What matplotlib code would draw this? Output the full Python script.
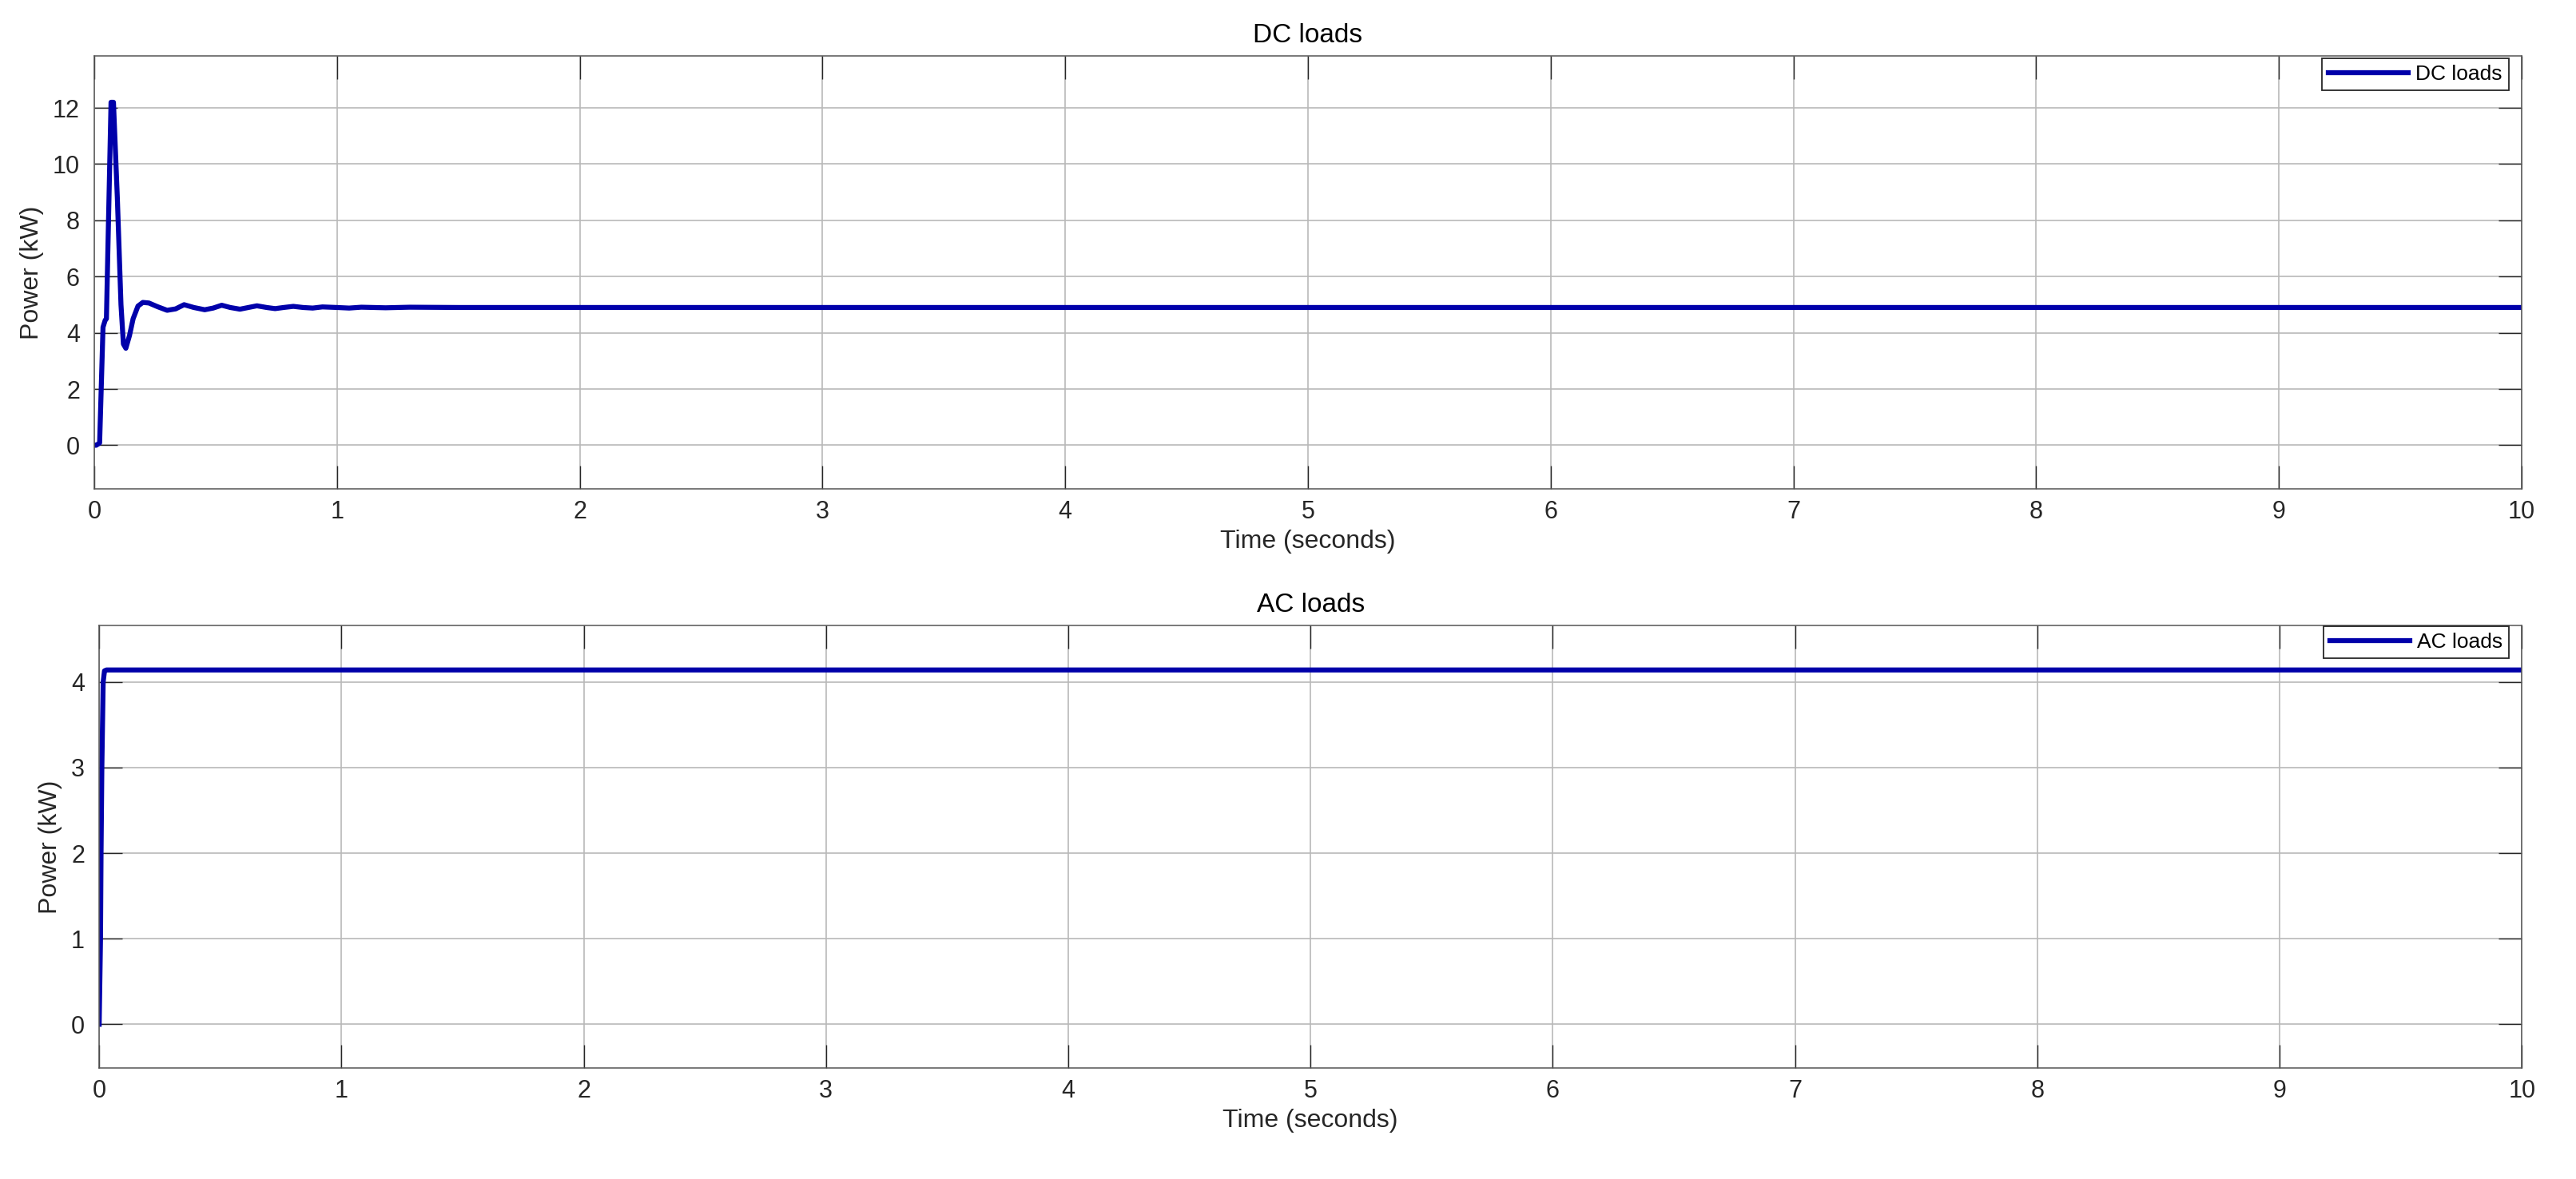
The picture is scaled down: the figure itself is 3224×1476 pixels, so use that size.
import matplotlib
matplotlib.use('Agg')
import matplotlib.pyplot as plt

plt.rcParams['font.family'] = ['Liberation Sans', 'DejaVu Sans']

# DC loads power (kW)
dc_time = [0.0, 0.008, 0.022, 0.036, 0.045, 0.050, 0.069, 0.079, 0.095, 0.110,
           0.120, 0.130, 0.145, 0.160, 0.180, 0.200, 0.225, 0.260, 0.300, 0.335,
           0.370, 0.410, 0.455, 0.490, 0.525, 0.560, 0.600, 0.635, 0.670, 0.710,
           0.745, 0.780, 0.820, 0.860, 0.900, 0.940, 1.000, 1.050, 1.100, 1.200,
           1.300, 1.500, 10.0]
dc_power = [0.0, 0.0, 0.08, 4.2, 4.45, 4.5, 12.2, 12.2, 8.8, 5.0,
            3.6, 3.45, 3.9, 4.5, 4.95, 5.08, 5.06, 4.93, 4.8, 4.85,
            5.0, 4.9, 4.82, 4.88, 4.98, 4.9, 4.84, 4.9, 4.96, 4.9,
            4.86, 4.9, 4.94, 4.9, 4.88, 4.92, 4.9, 4.88, 4.91, 4.89,
            4.91, 4.9, 4.9]

# AC loads power (kW)
ac_time = [0.0, 0.0055, 0.0077, 0.011, 0.0165, 0.022, 0.03, 10.0]
ac_power = [0.0, 1.0, 2.0, 3.0, 4.0, 4.13, 4.14, 4.14]

x_ticks = [0, 1, 2, 3, 4, 5, 6, 7, 8, 9, 10]
dc_yticks = [0, 2, 4, 6, 8, 10, 12]
ac_yticks = [0, 1, 2, 3, 4]

line_color = '#0000aa'
text_color = '#262626'

fig = plt.figure(figsize=(32.24, 14.76), dpi=100)
ax1 = fig.add_axes([0.0366, 0.5854, 0.9423, 0.3672])
ax2 = fig.add_axes([0.0385, 0.0942, 0.9405, 0.3753])


def style_axes(ax, title, yticks, ylim, anchor):
    ax.set_xlim(0, 10)
    ax.set_ylim(*ylim)
    ax.set_xticks(x_ticks)
    ax.set_yticks(yticks)
    ax.set_axisbelow(True)
    ax.grid(True, color='#b9b9b9', linewidth=1.2)
    ax.tick_params(direction='in', length=21, width=1, top=True, right=True,
                   labelsize=22, pad=13, color=text_color, labelcolor=text_color)
    ax.tick_params(axis='x', pad=10)
    for s in ax.spines.values():
        s.set_color('#555555')
        s.set_linewidth(1.1)
    ax.set_title(title, fontsize=24, color='black', pad=12)
    ax.set_xlabel('Time (seconds)', fontsize=23, color=text_color, labelpad=5)
    ax.set_ylabel('Power (kW)', fontsize=23, color=text_color, labelpad=8)
    leg = ax.legend(loc='upper right', bbox_to_anchor=anchor, borderaxespad=0,
                    fontsize=19, fancybox=False, edgecolor=text_color, framealpha=1,
                    handlelength=3.8, handletextpad=0.35, borderpad=0.3)
    leg.get_frame().set_linewidth(1.3)


ax1.plot(dc_time, dc_power, color=line_color, linewidth=4.5, label='DC loads')
style_axes(ax1, 'DC loads', dc_yticks, (-1.55, 13.85), (0.9947, 0.994))

ax2.plot(ac_time, ac_power, color=line_color, linewidth=4.5, label='AC loads')
style_axes(ax2, 'AC loads', ac_yticks, (-0.51, 4.66), (0.9947, 0.998))

fig.savefig('out.png', dpi=100)
